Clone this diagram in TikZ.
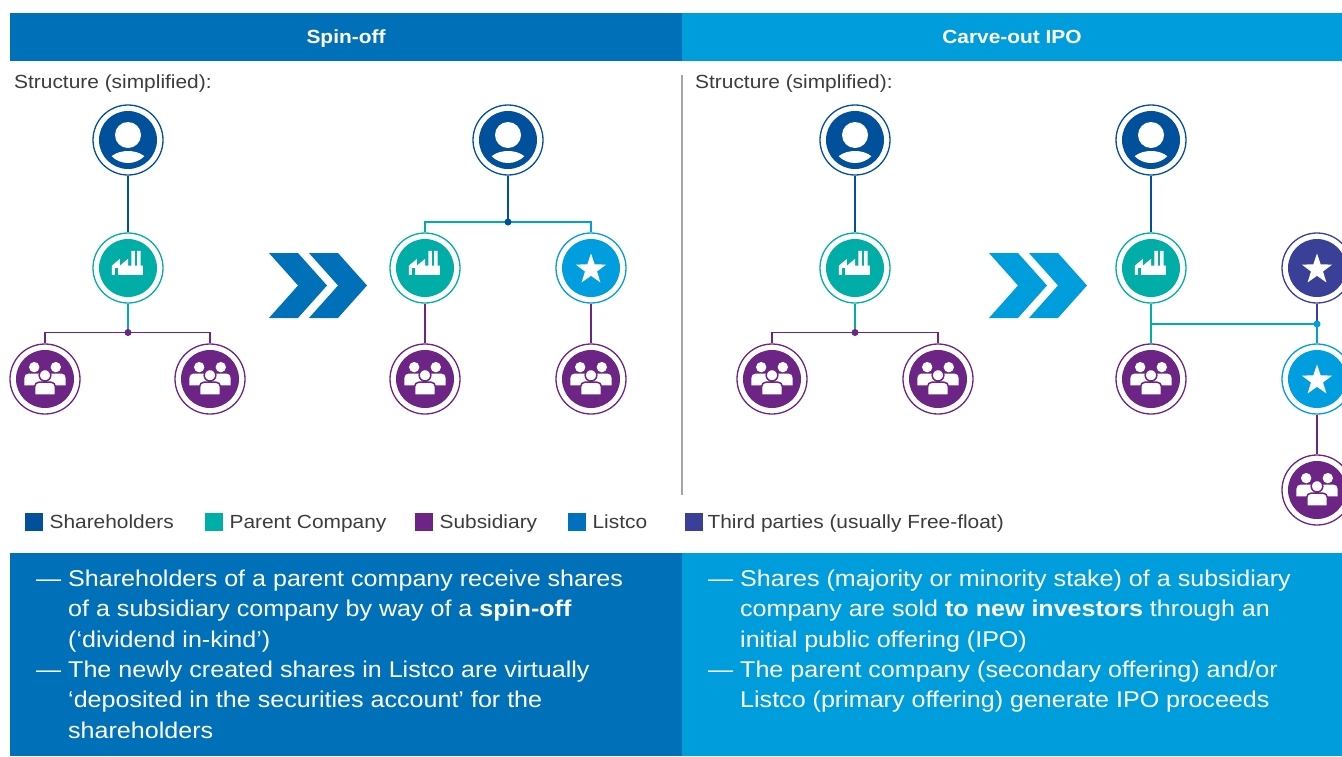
\documentclass[tikz,border=0pt]{standalone}
\usepackage{fontspec}
\setmainfont{Liberation Sans}[FakeStretch=1.1]
\usepackage{tikz}
\usetikzlibrary{positioning}
\definecolor{shcol}{RGB}{0,80,155}
\definecolor{tealcol}{RGB}{0,174,167}
\definecolor{subcol}{RGB}{108,37,132}
\definecolor{lstcol}{RGB}{0,158,222}
\definecolor{listkey}{RGB}{0,113,188}
\definecolor{thirdcol}{RGB}{58,64,152}
\definecolor{spincol}{RGB}{0,113,185}
\definecolor{carvecol}{RGB}{0,157,220}
\definecolor{txtgray}{RGB}{60,60,60}
\definecolor{divgray}{RGB}{165,165,165}

\begin{document}
\begin{tikzpicture}[x=1pt, y=-1pt,
  ring/.style = {circle, draw=#1, line width=1.3pt, minimum size=70pt, inner sep=0pt},
  link/.style = {draw=#1, line width=1.3pt},
  hdbar/.style = {fill=#1, minimum width=672pt, minimum height=48pt, inner sep=0pt,
    text=white, text height=13.6pt, text depth=0pt, font=\bfseries\fontsize{19}{23}\selectfont},
  struct/.style = {text=txtgray, inner sep=0pt, anchor=base west, font=\fontsize{19}{23}\selectfont},
  legbox/.style = {fill=#1, minimum size=18pt, inner sep=0pt, anchor=north west},
  legtext/.style = {text=txtgray, inner sep=0pt, text height=13.5pt, text depth=0pt,
    font=\fontsize{19}{23}\selectfont},
  bodytext/.style = {text=white, inner sep=0pt, anchor=base west, font=\fontsize{22.8}{30}\selectfont},
  pics/person/.style = {code={
    \fill[shcol] (0,0) circle (29);
    \begin{scope}
      \clip (0,0) circle (23);
      \fill[white] (0,-5) circle (13);
      \fill[white] (0,25) ellipse (21 and 14);
    \end{scope}
  }},
  pics/factory/.style = {code={
    \fill[tealcol] (0,0) circle (29);
    \begin{scope}[scale=1.15]
      \fill[white] (-14,6) -- (-14,-2) -- (-7,-8) -- (-7,-2) -- (0,-8) -- (0,-2) -- (3,-2)
        -- (3,-15) -- (6,-15) -- (6,-2) -- (8,-2) -- (8,-15) -- (11,-15) -- (11,-2)
        -- (13,-2) -- (13,6) -- cycle;
      \fill[tealcol] (-11,6) rectangle (-8.5,0);
    \end{scope}
  }},
  pics/people/.style = {code={
    \fill[subcol] (0,0) circle (29);
    \begin{scope}[scale=1.08]
      \fill[white] (-10,-11) circle (4.8) (10,-11) circle (4.8);
      \fill[white] (-19,6) [rounded corners=4pt] -- (-19,-5) -- (-2,-5) [sharp corners] -- (-2,6) -- cycle;
      \fill[white] (19,6) [rounded corners=4pt] -- (19,-5) -- (2,-5) [sharp corners] -- (2,6) -- cycle;
      \filldraw[fill=white, draw=subcol, line width=1.5pt] (0,-3.5) circle (5.4);
      \filldraw[fill=white, draw=subcol, line width=1.5pt] (-9.5,15) [rounded corners=4pt]
        -- (-9.5,3) -- (9.5,3) [sharp corners] -- (9.5,15) -- cycle;
    \end{scope}
  }},
  pics/staricon/.style = {code={
    \fill[#1] (0,0) circle (29);
    \fill[white, shift={(0,1.5)}] (-90:16) -- (-54:6.3) -- (-18:16) -- (18:6.3) -- (54:16)
      -- (90:6.3) -- (126:16) -- (162:6.3) -- (198:16) -- (234:6.3) -- cycle;
  }}
]
\useasboundingbox (0,0) rectangle (1342,756);
\fill[white] (0,0) rectangle (1342,756);

% header
\node[hdbar=spincol] (hspin) at (346,37) {Spin-off};
\node[hdbar=carvecol, minimum width=660pt] (hcarve) at (1012,37) {Carve-out IPO};
\node[struct] (st1) at (14,88.5) {Structure (simplified):};
\node[struct] (st2) at (695,88.5) {Structure (simplified):};
\draw[divgray, line width=1.2pt] (682,75) -- (682,495);

% spin-off, before
\node[ring=shcol] (sh1) at (128,140) {};
\node[ring=tealcol] (pa1) at (128,268) {};
\node[ring=subcol] (su1a) at (45,379) {};
\node[ring=subcol] (su1b) at (210,379) {};
\coordinate (j1) at (128,332.5);
\draw[link=shcol] (sh1) -- (pa1);
\draw[link=tealcol] (pa1) -- (j1);
\draw[link=subcol] (j1) -| (su1a);
\draw[link=subcol] (j1) -| (su1b);
\fill[subcol] (j1) circle (3.5);
\pic at (sh1) {person};
\pic at (pa1) {factory};
\pic at (su1a) {people};
\pic at (su1b) {people};

\fill[spincol] (269,253) -- (298,253) -- (327,285.5) -- (298,318) -- (269,318) -- (298,285.5) -- cycle;
\fill[spincol] (309,253) -- (338,253) -- (367,285.5) -- (338,318) -- (309,318) -- (338,285.5) -- cycle;

% spin-off, after
\node[ring=shcol] (sh2) at (508,140) {};
\node[ring=tealcol] (pa2) at (425,268) {};
\node[ring=lstcol] (li2) at (591,268) {};
\node[ring=subcol] (su2a) at (425,379) {};
\node[ring=subcol] (su2b) at (591,379) {};
\coordinate (j2) at (508,222);
\draw[link=shcol] (sh2) -- (j2);
\draw[link=tealcol] (j2) -| (pa2);
\draw[link=lstcol] (j2) -| (li2);
\draw[link=subcol] (pa2) -- (su2a);
\draw[link=subcol] (li2) -- (su2b);
\fill[shcol] (j2) circle (3.5);
\pic at (sh2) {person};
\pic at (pa2) {factory};
\pic at (li2) {staricon=lstcol};
\pic at (su2a) {people};
\pic at (su2b) {people};

% carve-out, before
\node[ring=shcol] (sh3) at (855,140) {};
\node[ring=tealcol] (pa3) at (855,268) {};
\node[ring=subcol] (su3a) at (772,379) {};
\node[ring=subcol] (su3b) at (938,379) {};
\coordinate (j3) at (855,332.5);
\draw[link=shcol] (sh3) -- (pa3);
\draw[link=tealcol] (pa3) -- (j3);
\draw[link=subcol] (j3) -| (su3a);
\draw[link=subcol] (j3) -| (su3b);
\fill[subcol] (j3) circle (3.5);
\pic at (sh3) {person};
\pic at (pa3) {factory};
\pic at (su3a) {people};
\pic at (su3b) {people};

\fill[carvecol] (989,253) -- (1018,253) -- (1047,285.5) -- (1018,318) -- (989,318) -- (1018,285.5) -- cycle;
\fill[carvecol] (1029,253) -- (1058,253) -- (1087,285.5) -- (1058,318) -- (1029,318) -- (1058,285.5) -- cycle;

% carve-out, after
\node[ring=shcol] (sh4) at (1151,140) {};
\node[ring=tealcol] (pa4) at (1151,268) {};
\node[ring=subcol] (su4a) at (1151,379) {};
\node[ring=thirdcol] (tp4) at (1317,268) {};
\node[ring=lstcol] (li4) at (1317,379) {};
\node[ring=subcol] (su4b) at (1317,490) {};
\coordinate (j4) at (1317,324);
\draw[link=shcol] (sh4) -- (pa4);
\draw[link=tealcol] (pa4) -- (su4a);
\draw[link=tealcol] (pa4.south |- j4) -- (j4);
\draw[link=thirdcol] (tp4) -- (j4);
\draw[link=lstcol] (j4) -- (li4);
\draw[link=subcol] (li4) -- (su4b);
\fill[lstcol] (j4) circle (3.5);
\pic at (sh4) {person};
\pic at (pa4) {factory};
\pic at (su4a) {people};
\pic at (tp4) {staricon=thirdcol};
\pic at (li4) {staricon=lstcol};
\pic at (su4b) {people};

% legend
\node[legbox=shcol] (k1) at (25,513) {};
\node[legtext, right=6pt of k1] (t1) {Shareholders};
\node[legbox=tealcol] (k2) at (205,513) {};
\node[legtext, right=6pt of k2] (t2) {Parent Company};
\node[legbox=subcol] (k3) at (415,513) {};
\node[legtext, right=6pt of k3] (t3) {Subsidiary};
\node[legbox=listkey] (k4) at (568,513) {};
\node[legtext, right=6pt of k4] (t4) {Listco};
\node[legbox=thirdcol] (k5) at (685,513) {};
\node[legtext, right=4pt of k5] (t5) {Third parties (usually Free-float)};

% text boxes
\fill[spincol] (10,553) rectangle (682,756);
\fill[carvecol] (682,553) rectangle (1342,756);
\node[bodytext] (a1) at (68,586.5) {\llap{— }Shareholders of a parent company receive shares};
\node[bodytext] (a2) at (68,616.8) {of a subsidiary company by way of a \textbf{spin-off}};
\node[bodytext] (a3) at (68,647.1) {(‘dividend in-kind’)};
\node[bodytext] (a4) at (68,677.4) {\llap{— }The newly created shares in Listco are virtually};
\node[bodytext] (a5) at (68,707.7) {‘deposited in the securities account’ for the};
\node[bodytext] (a6) at (68,738) {shareholders};
\node[bodytext] (b1) at (740,586.5) {\llap{— }Shares (majority or minority stake) of a subsidiary};
\node[bodytext] (b2) at (740,616.8) {company are sold \textbf{to new investors} through an};
\node[bodytext] (b3) at (740,647.1) {initial public offering (IPO)};
\node[bodytext] (b4) at (740,677.4) {\llap{— }The parent company (secondary offering) and/or};
\node[bodytext] (b5) at (740,707.7) {Listco (primary offering) generate IPO proceeds};
\end{tikzpicture}
\end{document}
